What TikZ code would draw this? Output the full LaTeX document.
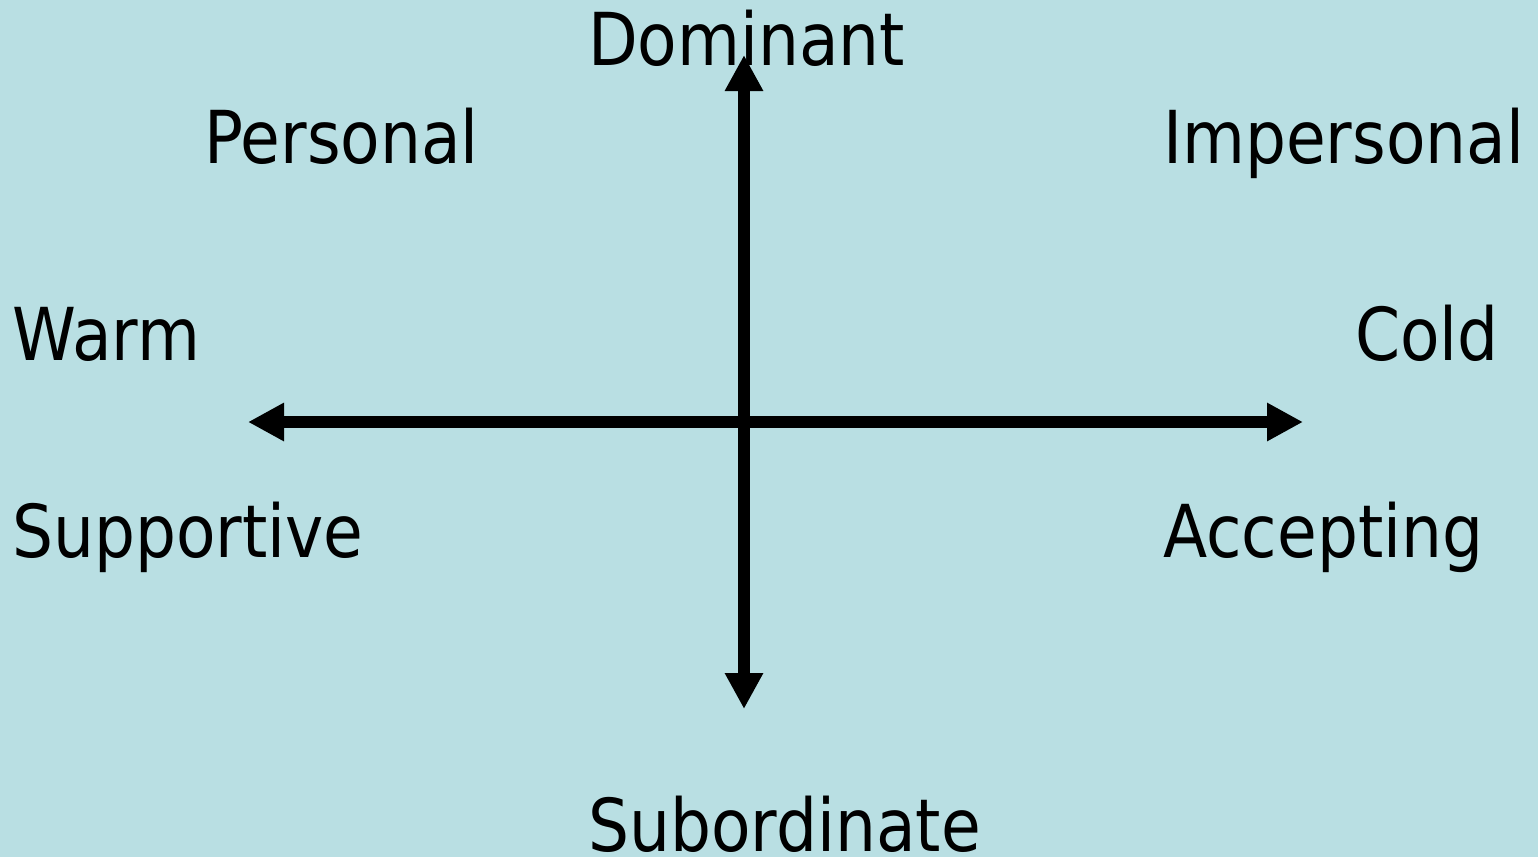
\documentclass[tikz,border=0pt]{standalone}
\usepackage{fontspec}
\setmainfont{DejaVu Sans}[FakeStretch=0.885]
\usetikzlibrary{arrows.meta}
\definecolor{bgc}{HTML}{B9DFE3}
\tikzset{
  lbl/.style={anchor=base west, inner sep=0pt, font=\fontsize{73}{80}\selectfont, text=black},
  axis2/.style={line width=12.5pt, {Triangle[length=36pt,width=36pt]}-{Triangle[length=36pt,width=36pt]}, black}
}
\begin{document}
\begin{tikzpicture}[x=1pt,y=-1pt]
\fill[bgc] (0,0) rectangle (1538,857);
\useasboundingbox (0,0) rectangle (1538,857);
\coordinate (top) at (744,55);
\coordinate (bot) at (744,709);
\coordinate (left) at (248,422);
\coordinate (right) at (1303,422);
\draw[axis2] (bot) -- (top);
\draw[axis2] (left) -- (right);
\node[lbl] (dom) at (588,65) {Dominant};
\node[lbl] (per) at (204,163) {Personal};
\node[lbl] (imp) at (1163,163) {Impersonal};
\node[lbl] (warm) at (12,360) {Warm};
\node[lbl] (cold) at (1355,360) {Cold};
\node[lbl] (sup) at (12,557) {Supportive};
\node[lbl] (acc) at (1163,557) {Accepting};
\node[lbl] (sub) at (588,851) {Subordinate};
\end{tikzpicture}
\end{document}
